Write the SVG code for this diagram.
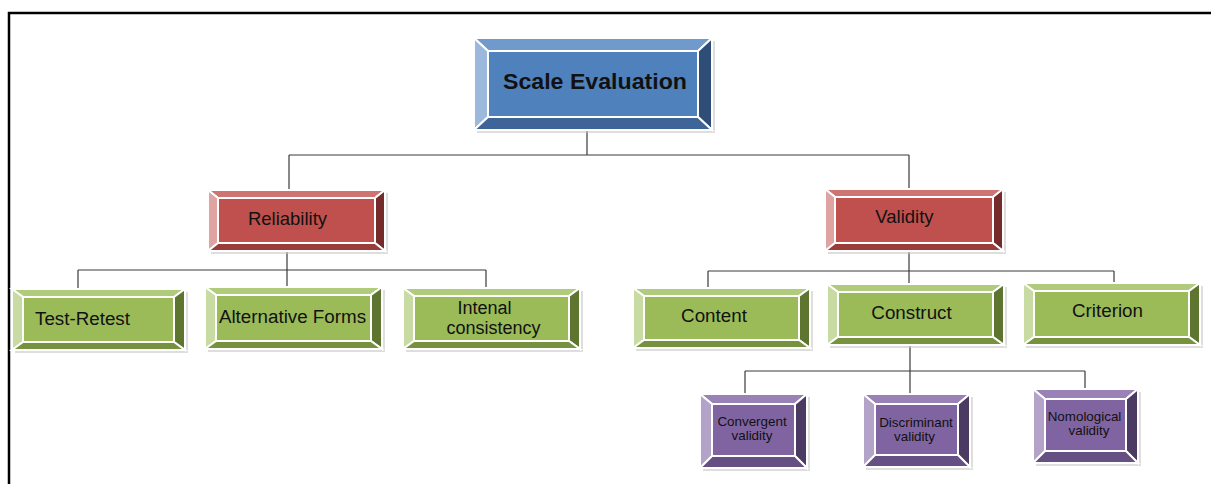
<svg xmlns="http://www.w3.org/2000/svg" width="1211" height="484" viewBox="0 0 1211 484">
<style>
.frame{fill:none;stroke:#000;stroke-width:2.5}
.conn path{fill:none;stroke:#3a3a3a;stroke-width:1.2}
.sh{fill:#c8c8c8;opacity:0.6}
.b{stroke:#fff;stroke-width:2;stroke-linejoin:miter}
.blue .m{fill:#4F81BD}.blue .t{fill:#7099CC}.blue .l{fill:#9DB8DD}.blue .r{fill:#2E4E77}.blue .d{fill:#3F6598}
.red .m{fill:#C0504D}.red .t{fill:#CE7472}.red .l{fill:#DFA3A2}.red .r{fill:#742B29}.red .d{fill:#9A3D3A}
.green .m{fill:#9BBB59}.green .t{fill:#B0CB7C}.green .l{fill:#C8DBA3}.green .r{fill:#5E7530}.green .d{fill:#77923E}
.purple .m{fill:#8064A2}.purple .t{fill:#9A82B7}.purple .l{fill:#B4A3C9}.purple .r{fill:#4B3A61}.purple .d{fill:#664F83}
text{font-family:"Liberation Sans",Arial,sans-serif;fill:#111;text-anchor:middle}
.t1{font-size:21.5px;font-weight:bold}
.t2{font-size:18.5px}
.t3{font-size:18.8px}
.t3s{font-size:18px}
.t4{font-size:13.4px}
</style>
<path class="frame" d="M9,484 V13 H1211"/>
<g id="connectors" class="conn">
<path d="M587,130 V155 M289,155 H909 M289,155 V190 M909,155 V189"/>
<path d="M287,251 V270 M78,270 H486 M78,270 V289 M287,270 V287 M486,270 V288"/>
<path d="M909,251 V271 M708,271 H1114 M708,271 V288 M909,271 V284 M1114,271 V283"/>
<path d="M910,345 V371 M745,371 H1085 M745,371 V394 M910,371 V394 M1085,371 V389"/>
</g>

<g id="scale-evaluation" class="blue" transform="translate(474,38)">
<rect class="sh" x="3" y="3" width="238" height="92"/>
<polygon class="t b" points="0,0 238,0 224,13 14,13"/>
<polygon class="l b" points="0,0 14,13 14,79 0,92"/>
<polygon class="r b" points="238,0 238,92 224,79 224,13"/>
<polygon class="d b" points="0,92 14,79 224,79 238,92"/>
<rect class="m b" x="14" y="13" width="210" height="66"/>
<text class="t1" x="121" y="51" textLength="184" lengthAdjust="spacingAndGlyphs">Scale Evaluation</text>
</g>

<g id="reliability" class="red" transform="translate(208,190)">
<rect class="sh" x="3" y="3" width="177" height="61"/>
<polygon class="t b" points="0,0 177,0 167,8 10,8"/>
<polygon class="l b" points="0,0 10,8 10,53 0,61"/>
<polygon class="r b" points="177,0 177,61 167,53 167,8"/>
<polygon class="d b" points="0,61 10,53 167,53 177,61"/>
<rect class="m b" x="10" y="8" width="157" height="45"/>
<text class="t2" x="79.5" y="35">Reliability</text>
</g>

<g id="validity" class="red" transform="translate(825,189)">
<rect class="sh" x="3" y="3" width="178" height="62"/>
<polygon class="t b" points="0,0 178,0 168,8 10,8"/>
<polygon class="l b" points="0,0 10,8 10,54 0,62"/>
<polygon class="r b" points="178,0 178,62 168,54 168,8"/>
<polygon class="d b" points="0,62 10,54 168,54 178,62"/>
<rect class="m b" x="10" y="8" width="158" height="46"/>
<text class="t2" x="79.5" y="34">Validity</text>
</g>

<g id="test-retest" class="green" transform="translate(12,289)">
<rect class="sh" x="3" y="3" width="173" height="61"/>
<polygon class="t b" points="0,0 173,0 162,8 11,8"/>
<polygon class="l b" points="0,0 11,8 11,53 0,61"/>
<polygon class="r b" points="173,0 173,61 162,53 162,8"/>
<polygon class="d b" points="0,61 11,53 162,53 173,61"/>
<rect class="m b" x="11" y="8" width="151" height="45"/>
<text class="t3" x="70.5" y="36">Test-Retest</text>
</g>

<g id="alternative-forms" class="green" transform="translate(205,287)">
<rect class="sh" x="3" y="3" width="177" height="62"/>
<polygon class="t b" points="0,0 177,0 166,8 11,8"/>
<polygon class="l b" points="0,0 11,8 11,54 0,62"/>
<polygon class="r b" points="177,0 177,62 166,54 166,8"/>
<polygon class="d b" points="0,62 11,54 166,54 177,62"/>
<rect class="m b" x="11" y="8" width="155" height="46"/>
<text class="t3" x="87.5" y="36">Alternative Forms</text>
</g>

<g id="internal-consistency" class="green" transform="translate(403,288)">
<rect class="sh" x="3" y="3" width="177" height="61"/>
<polygon class="t b" points="0,0 177,0 166,8 11,8"/>
<polygon class="l b" points="0,0 11,8 11,53 0,61"/>
<polygon class="r b" points="177,0 177,61 166,53 166,8"/>
<polygon class="d b" points="0,61 11,53 166,53 177,61"/>
<rect class="m b" x="11" y="8" width="155" height="45"/>
<text class="t3s" x="81.5" y="26">Intenal</text>
<text class="t3s" x="90.5" y="45.5">consistency</text>
</g>

<g id="content" class="green" transform="translate(633,288)">
<rect class="sh" x="3" y="3" width="177" height="60"/>
<polygon class="t b" points="0,0 177,0 166,8 11,8"/>
<polygon class="l b" points="0,0 11,8 11,52 0,60"/>
<polygon class="r b" points="177,0 177,60 166,52 166,8"/>
<polygon class="d b" points="0,60 11,52 166,52 177,60"/>
<rect class="m b" x="11" y="8" width="155" height="44"/>
<text class="t3" x="81" y="34">Content</text>
</g>

<g id="construct" class="green" transform="translate(827,284)">
<rect class="sh" x="3" y="3" width="177" height="61"/>
<polygon class="t b" points="0,0 177,0 166,8 11,8"/>
<polygon class="l b" points="0,0 11,8 11,53 0,61"/>
<polygon class="r b" points="177,0 177,61 166,53 166,8"/>
<polygon class="d b" points="0,61 11,53 166,53 177,61"/>
<rect class="m b" x="11" y="8" width="155" height="45"/>
<text class="t3" x="84.5" y="35">Construct</text>
</g>

<g id="criterion" class="green" transform="translate(1023,283)">
<rect class="sh" x="3" y="3" width="177" height="62"/>
<polygon class="t b" points="0,0 177,0 166,8 11,8"/>
<polygon class="l b" points="0,0 11,8 11,54 0,62"/>
<polygon class="r b" points="177,0 177,62 166,54 166,8"/>
<polygon class="d b" points="0,62 11,54 166,54 177,62"/>
<rect class="m b" x="11" y="8" width="155" height="46"/>
<text class="t3" x="84.5" y="34">Criterion</text>
</g>

<g id="convergent-validity" class="purple" transform="translate(700,394)">
<rect class="sh" x="3" y="3" width="107" height="74"/>
<polygon class="t b" points="0,0 107,0 95,10 12,10"/>
<polygon class="l b" points="0,0 12,10 12,62 0,74"/>
<polygon class="r b" points="107,0 107,74 95,62 95,10"/>
<polygon class="d b" points="0,74 12,62 95,62 107,74"/>
<rect class="m b" x="12" y="10" width="83" height="52"/>
<text class="t4" x="52" y="32">Convergent</text>
<text class="t4" x="52" y="46">validity</text>
</g>

<g id="discriminant-validity" class="purple" transform="translate(863,394)">
<rect class="sh" x="3" y="3" width="107" height="73"/>
<polygon class="t b" points="0,0 107,0 95,10 12,10"/>
<polygon class="l b" points="0,0 12,10 12,61 0,73"/>
<polygon class="r b" points="107,0 107,73 95,61 95,10"/>
<polygon class="d b" points="0,73 12,61 95,61 107,73"/>
<rect class="m b" x="12" y="10" width="83" height="51"/>
<text class="t4" x="53" y="33">Discriminant</text>
<text class="t4" x="51.5" y="47">validity</text>
</g>

<g id="nomological-validity" class="purple" transform="translate(1033,389)">
<rect class="sh" x="3" y="3" width="105" height="74"/>
<polygon class="t b" points="0,0 105,0 93,10 12,10"/>
<polygon class="l b" points="0,0 12,10 12,62 0,74"/>
<polygon class="r b" points="105,0 105,74 93,62 93,10"/>
<polygon class="d b" points="0,74 12,62 93,62 105,74"/>
<rect class="m b" x="12" y="10" width="81" height="52"/>
<text class="t4" x="51.5" y="32">Nomological</text>
<text class="t4" x="56" y="46">validity</text>
</g>
</svg>
